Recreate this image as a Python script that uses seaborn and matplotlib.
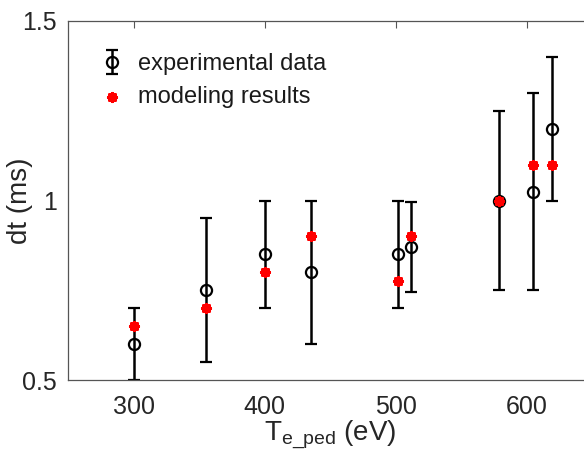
import matplotlib
matplotlib.use("Agg")
import matplotlib.pyplot as plt
import seaborn as sns
import pandas as pd

# Data
te_ped = [300, 355, 400, 435, 502, 512, 579, 605, 619]
dt_exp = [0.60, 0.75, 0.85, 0.80, 0.85, 0.87, 1.00, 1.025, 1.20]
err_low = [0.50, 0.55, 0.70, 0.60, 0.70, 0.745, 0.75, 0.75, 1.00]
err_high = [0.70, 0.95, 1.00, 1.00, 1.00, 0.995, 1.25, 1.30, 1.40]
dt_model = [0.65, 0.70, 0.80, 0.90, 0.775, 0.90, 1.00, 1.10, 1.10]
x_ticks = [300, 400, 500, 600]
y_ticks = [0.5, 1.0, 1.5]
y_tick_labels = ["0.5", "1", "1.5"]

sns.set_style("white")
plt.rcParams['font.family'] = ['Liberation Sans', 'DejaVu Sans']

fig = plt.figure(figsize=(5.84, 4.54), dpi=100)
W, H = 584, 454
x0, x1 = 250, 650
px_per_unit = 1.311
ax = fig.add_axes([68 / W, (H - 380) / H, (x1 - x0) * px_per_unit / W, 359 / H])

yerr = [[d - l for d, l in zip(dt_exp, err_low)], [h - d for d, h in zip(dt_exp, err_high)]]
ax.errorbar(te_ped, dt_exp, yerr=yerr, fmt='o', color='black', mfc='none', mec='black',
            ms=8, mew=1.6, elinewidth=1.8, capsize=4, capthick=1.8,
            label='experimental data', zorder=2)

df = pd.DataFrame({'x': te_ped, 'y': dt_model})
sns.scatterplot(data=df, x='x', y='y', ax=ax, marker=(8, 2, 0), s=30, color='red',
                edgecolor='red', linewidth=2.6, label='modeling results', zorder=3)

ax.set_xlim(x0, x1)
ax.set_ylim(0.5, 1.5)
ax.set_xticks(x_ticks)
ax.set_yticks(y_ticks)
ax.set_yticklabels(y_tick_labels)
ax.tick_params(direction='in', length=5, width=0.8, color='#555555', labelsize=18,
               labelcolor='#262626', top=True, right=True)
ax.tick_params(axis='x', pad=11)
ax.tick_params(axis='y', pad=8)
for s in ax.spines.values():
    s.set_color('#555555')
    s.set_linewidth(0.9)

ax.set_xlabel(r'T$_{\mathregular{e\_ped}}$ (eV)', fontsize=20, color='#262626', labelpad=-1)
ax.set_ylabel('dt (ms)', fontsize=20, color='#262626')
ax.yaxis.set_label_coords(-0.066, 0.5)

handles, labels = ax.get_legend_handles_labels()
order = [labels.index('experimental data'), labels.index('modeling results')]
leg = ax.legend([handles[i] for i in order], [labels[i] for i in order],
                loc='upper left', frameon=False, fontsize=17, handlelength=1.0,
                handletextpad=0.6, borderaxespad=0, borderpad=0, labelspacing=0.45,
                bbox_to_anchor=(0.062, 0.91))
for t in leg.get_texts():
    t.set_color('#1a1a1a')

fig.savefig('out.png', dpi=100)
